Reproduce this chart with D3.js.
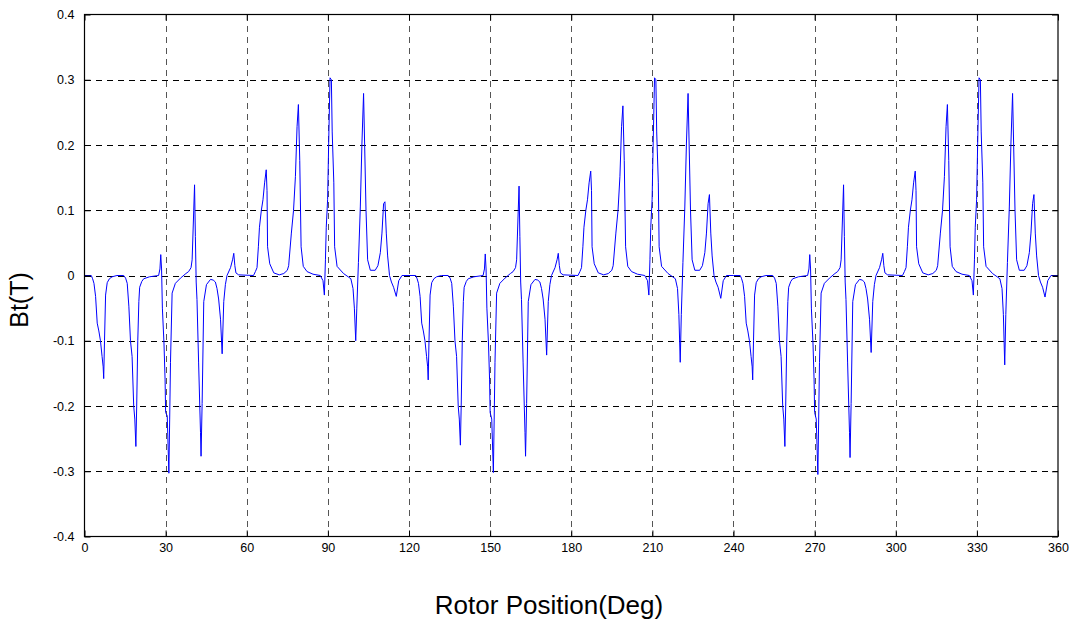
<!DOCTYPE html>
<html><head><meta charset="utf-8">
<script src="https://cdn.jsdelivr.net/npm/d3@7"></script>
<style>body{margin:0;background:#fff}svg{display:block}text{font-family:"Liberation Sans",Arial,sans-serif}</style>
</head><body>
<svg id="c" width="1075" height="623"></svg>
<script>
const xTicks = [0,30,60,90,120,150,180,210,240,270,300,330,360];
const yTicks = [-0.4,-0.3,-0.2,-0.1,0,0.1,0.2,0.3,0.4];
const yTickLabels = ["-0.4","-0.3","-0.2","-0.1","0","0.1","0.2","0.3","0.4"];
const xLabel = "Rotor Position(Deg)";
const yLabel = "Bt(T)";

// period 1 (0-120 deg): [deg, Bt]
const period1 = [
[0,0],[2.5,0],[3.0,-0.005],[3.5,-0.012],[4.1,-0.032],[4.7,-0.073],[5.3,-0.085],[5.9,-0.1],[6.5,-0.124],[6.9,-0.14],[7.1,-0.158],[7.4,-0.1],[7.8,-0.03],[8.4,-0.011],[9.2,-0.005],[10.2,-0.002],[12,0],
[14.5,0],[15.2,-0.004],[15.8,-0.012],[16.4,-0.047],[17.0,-0.1],[17.6,-0.124],[18.2,-0.2],[18.6,-0.22],[19.0,-0.262],[19.3,-0.2],[19.7,-0.1],[20.1,-0.04],[20.4,-0.018],[21.2,-0.009],[21.9,-0.005],[24,-0.002],
[27.4,0],[27.9,0.01],[28.2,0.032],[28.5,0.01],[28.8,-0.05],[29.4,-0.105],[29.8,-0.16],[30.0,-0.21],[30.6,-0.215],[31.2,-0.303],[31.5,-0.22],[31.8,-0.133],[32.4,-0.027],[33.6,-0.012],[35.5,-0.004],
[37.5,0.003],[38.5,0.006],[39.4,0.012],[39.8,0.024],[40.4,0.1],[40.7,0.139],[41.0,0.06],[41.3,-0.01],[41.6,-0.037],[42.2,-0.134],[42.9,-0.241],[43.1,-0.277],[43.5,-0.196],[44.1,-0.04],[45.1,-0.014],[46.6,-0.006],
[47.6,-0.007],[48.4,-0.01],[49.0,-0.02],[49.6,-0.036],[50.3,-0.067],[50.9,-0.12],[51.5,-0.04],[52.1,-0.014],[52.7,0],[54.0,0.012],[54.8,0.025],[55.2,0.034],[55.6,0.015],[56.0,0.004],[57,0.001],
[62.5,0],[63.2,0.006],[63.8,0.012],[64.3,0.044],[64.7,0.074],[65.4,0.1],[66.0,0.116],[66.6,0.142],[67.2,0.162],[67.5,0.13],[67.7,0.044],[68.5,0.018],[70.0,0.004],[72,0.001],
[73.7,0.003],[75.0,0.008],[75.5,0.015],[76.5,0.065],[77.3,0.1],[78.0,0.152],[78.6,0.228],[79.1,0.262],[79.6,0.176],[80.1,0.044],[80.9,0.014],[82.3,0.006],[84.5,0.002],
[87.2,0],[88.2,-0.008],[88.7,-0.03],[89.1,0.024],[89.4,0.074],[89.9,0.116],[90.3,0.203],[90.8,0.303],[91.3,0.3],[91.6,0.22],[92.2,0.142],[92.5,0.044],[93.4,0.014],[95.8,0.003],
[97.5,-0.002],[98.5,-0.005],[99.3,-0.02],[99.8,-0.05],[100.3,-0.1],[100.7,-0.05],[101.3,0.02],[102.0,0.105],[102.6,0.203],[103.2,0.279],[103.6,0.2],[104.1,0.1],[104.7,0.024],[105.7,0.008],
[107.5,0.008],[108.5,0.015],[109.4,0.035],[110.0,0.065],[110.6,0.11],[111.1,0.113],[111.6,0.065],[112.1,0.03],[112.8,0],[113.5,-0.01],[114.3,-0.018],[115.3,-0.032],[116.2,-0.008],[117.4,0]
];

// period 2 (120-240 deg)
const period2 = [
[120,0],[122.5,0],[123.0,-0.005],[123.5,-0.012],[124.1,-0.032],[124.7,-0.073],[125.3,-0.085],[125.9,-0.1],[126.5,-0.124],[126.9,-0.14],[127.1,-0.16],[127.4,-0.1],[127.8,-0.03],[128.4,-0.011],[129.2,-0.005],[130.2,-0.002],[132,0],
[134.5,0],[135.2,-0.004],[135.8,-0.012],[136.4,-0.047],[137.0,-0.1],[137.6,-0.124],[138.2,-0.2],[138.6,-0.22],[139.0,-0.26],[139.3,-0.2],[139.7,-0.1],[140.1,-0.04],[140.4,-0.018],[141.2,-0.009],[141.9,-0.005],[144,-0.002],
[147.4,0],[147.9,0.01],[148.2,0.033],[148.5,0.01],[148.8,-0.05],[149.4,-0.105],[149.8,-0.16],[150.0,-0.21],[150.6,-0.22],[151.2,-0.302],[151.5,-0.22],[151.8,-0.133],[152.4,-0.027],[153.6,-0.012],[155.5,-0.004],
[157.5,0.003],[158.5,0.006],[159.4,0.012],[159.8,0.024],[160.4,0.1],[160.7,0.137],[161.0,0.06],[161.3,-0.01],[161.6,-0.037],[162.2,-0.134],[162.9,-0.241],[163.1,-0.277],[163.5,-0.196],[164.1,-0.04],[165.1,-0.014],[166.6,-0.006],
[167.6,-0.007],[168.4,-0.01],[169.0,-0.02],[169.6,-0.036],[170.3,-0.067],[170.9,-0.122],[171.5,-0.04],[172.1,-0.014],[172.7,0],[174.0,0.012],[174.8,0.025],[175.2,0.034],[175.6,0.015],[176.0,0.004],[177,0.001],
[182.5,0],[183.2,0.006],[183.8,0.012],[184.3,0.044],[184.7,0.074],[185.4,0.1],[186.0,0.116],[186.6,0.142],[187.2,0.16],[187.5,0.13],[187.7,0.044],[188.5,0.018],[190.0,0.004],[192,0.001],
[193.7,0.003],[195.0,0.008],[195.5,0.015],[196.5,0.065],[197.3,0.1],[198.0,0.152],[198.6,0.228],[199.1,0.26],[199.6,0.176],[200.1,0.044],[200.9,0.014],[202.3,0.006],[204.5,0.002],
[207.2,0],[208.2,-0.008],[208.7,-0.03],[209.1,0.024],[209.4,0.074],[209.9,0.116],[210.3,0.203],[210.8,0.303],[211.3,0.3],[211.6,0.22],[212.2,0.142],[212.5,0.044],[213.4,0.014],[215.8,0.003],
[217.5,-0.002],[218.5,-0.005],[219.3,-0.02],[219.8,-0.06],[220.3,-0.133],[220.7,-0.06],[221.3,0.02],[222.0,0.105],[222.6,0.203],[223.2,0.279],[223.6,0.2],[224.1,0.1],[224.7,0.024],[225.7,0.008],
[227.5,0.008],[228.5,0.015],[229.4,0.035],[230.0,0.065],[230.6,0.11],[231.1,0.124],[231.6,0.065],[232.1,0.03],[232.8,0],[233.5,-0.01],[234.3,-0.018],[235.3,-0.035],[236.2,-0.008],[237.4,0]
];

// period 3 (240-360 deg)
const period3 = [
[240,0],[242.5,0],[243.0,-0.005],[243.5,-0.012],[244.1,-0.032],[244.7,-0.073],[245.3,-0.085],[245.9,-0.1],[246.5,-0.124],[246.9,-0.14],[247.1,-0.16],[247.4,-0.1],[247.8,-0.03],[248.4,-0.011],[249.2,-0.005],[250.2,-0.002],[252,0],
[254.5,0],[255.2,-0.004],[255.8,-0.012],[256.4,-0.047],[257.0,-0.1],[257.6,-0.124],[258.2,-0.2],[258.6,-0.22],[259.0,-0.262],[259.3,-0.2],[259.7,-0.1],[260.1,-0.04],[260.4,-0.018],[261.2,-0.009],[261.9,-0.005],[264,-0.002],
[267.4,0],[267.9,0.01],[268.2,0.032],[268.5,0.01],[268.8,-0.05],[269.4,-0.105],[269.8,-0.16],[270.0,-0.21],[270.6,-0.22],[271.2,-0.305],[271.5,-0.22],[271.8,-0.133],[272.4,-0.027],[273.6,-0.012],[275.5,-0.004],
[277.5,0.003],[278.5,0.006],[279.4,0.012],[279.8,0.024],[280.4,0.1],[280.7,0.139],[281.0,0.06],[281.3,-0.01],[281.6,-0.037],[282.2,-0.134],[282.9,-0.241],[283.1,-0.279],[283.5,-0.196],[284.1,-0.04],[285.1,-0.014],[286.6,-0.006],
[287.6,-0.007],[288.4,-0.01],[289.0,-0.02],[289.6,-0.036],[290.3,-0.067],[290.9,-0.118],[291.5,-0.04],[292.1,-0.014],[292.7,0],[294.0,0.012],[294.8,0.025],[295.2,0.034],[295.6,0.015],[296.0,0.004],[297,0.001],
[302.5,0],[303.2,0.006],[303.8,0.012],[304.3,0.044],[304.7,0.074],[305.4,0.1],[306.0,0.116],[306.6,0.142],[307.2,0.16],[307.5,0.13],[307.7,0.044],[308.5,0.018],[310.0,0.004],[312,0.001],
[313.7,0.003],[315.0,0.008],[315.5,0.015],[316.5,0.065],[317.3,0.1],[318.0,0.152],[318.6,0.228],[319.1,0.262],[319.6,0.176],[320.1,0.044],[320.9,0.014],[322.3,0.006],[324.5,0.002],
[327.2,0],[328.2,-0.008],[328.7,-0.03],[329.1,0.024],[329.4,0.074],[329.9,0.116],[330.3,0.203],[330.8,0.303],[331.3,0.3],[331.6,0.22],[332.2,0.142],[332.5,0.044],[333.4,0.014],[335.8,0.003],
[337.5,-0.002],[338.5,-0.005],[339.3,-0.02],[339.8,-0.06],[340.3,-0.137],[340.7,-0.06],[341.3,0.02],[342.0,0.105],[342.6,0.203],[343.2,0.279],[343.6,0.2],[344.1,0.1],[344.7,0.024],[345.7,0.008],
[347.5,0.008],[348.5,0.015],[349.4,0.035],[350.0,0.065],[350.6,0.11],[351.1,0.124],[351.6,0.065],[352.1,0.03],[352.8,0],[353.5,-0.01],[354.3,-0.018],[355.2,-0.033],[356.2,-0.008],[357.4,0],[360,0]
];

const data = period1.concat(period2, period3);

const L = 84.5, R = 1058, T = 14.5, B = 536.5;
const svg = d3.select("#c");
const x = d3.scaleLinear().domain([0,360]).range([L,R]);
const y = d3.scaleLinear().domain([-0.4,0.4]).range([B,T]);

// grid
const grid = svg.append("g").attr("stroke","#000").attr("stroke-width",1).attr("stroke-dasharray","6,5").attr("shape-rendering","crispEdges");
grid.selectAll("line.v").data(xTicks.slice(1,-1)).join("line")
  .attr("x1",d=>Math.round(x(d))+0.5).attr("x2",d=>Math.round(x(d))+0.5).attr("y1",T).attr("y2",B).attr("stroke","#555");
grid.selectAll("line.h").data(yTicks.slice(1,-1)).join("line")
  .attr("x1",L).attr("x2",R).attr("y1",d=>Math.round(y(d))+0.5).attr("y2",d=>Math.round(y(d))+0.5);

// data line
svg.append("path").datum(data)
  .attr("fill","none").attr("stroke","#0000ff").attr("stroke-width",1)
  .attr("d", d3.line().x(d=>x(d[0])).y(d=>y(d[1])));

// box
svg.append("rect").attr("x",L).attr("y",T).attr("width",R-L).attr("height",B-T)
  .attr("fill","none").attr("stroke","#000").attr("stroke-width",1.2);

// axes with inward ticks
const xAxis = d3.axisBottom(x).tickValues(xTicks).tickSize(-6).tickPadding(10).tickFormat(d3.format("d"));
const gx = svg.append("g").attr("transform",`translate(0,${B})`).call(xAxis);
const xTop = d3.axisTop(x).tickValues(xTicks).tickSize(-6).tickFormat("");
svg.append("g").attr("transform",`translate(0,${T})`).call(xTop);
const yAxis = d3.axisLeft(y).tickValues(yTicks).tickSize(-6).tickPadding(10).tickFormat((d,i)=>yTickLabels[i]);
const gy = svg.append("g").attr("transform",`translate(${L},0)`).call(yAxis);
const yRight = d3.axisRight(y).tickValues(yTicks).tickSize(-6).tickFormat("");
svg.append("g").attr("transform",`translate(${R},0)`).call(yRight);
svg.selectAll(".domain").remove();
svg.selectAll(".tick line").attr("stroke","#000");
svg.selectAll(".tick text").attr("font-size",12.5).attr("fill","#000").attr("font-family","'Liberation Sans',Arial,sans-serif");
gx.selectAll(".tick text").attr("dy","0.45em");

svg.append("text").attr("x",549).attr("y",614).attr("text-anchor","middle").attr("font-size",26).attr("fill","#000").text(xLabel);
svg.append("text").attr("transform","translate(28,300) rotate(-90)").attr("text-anchor","middle").attr("font-size",25).attr("fill","#000").text(yLabel);
</script>
</body></html>
